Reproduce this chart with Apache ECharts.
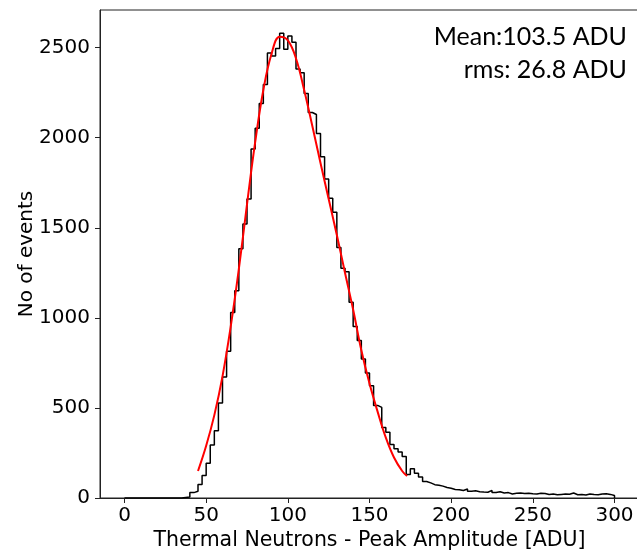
<!DOCTYPE html>
<html>
<head>
<meta charset="utf-8">
<script src="https://cdn.jsdelivr.net/npm/echarts@6/dist/echarts.min.js"></script>
<style>
  html, body { margin: 0; padding: 0; background: #fff; }
  #chart { width: 637px; height: 552px; }
</style>
</head>
<body>
<div id="chart"></div>
<script>
// Histogram: 120 bins of 2.5 ADU from 0 to 300
const binStart = 0;
const binWidth = 2.5;
const counts = [
  0, 0, 0, 0, 0, 0, 0, 0, 0, 0,
  0, 0, 0, 0, 3, 6, 30, 37, 75, 125,
  193, 294, 374, 528, 672, 814, 1030, 1150, 1383, 1521,
  1660, 1937, 2052, 2190, 2296, 2470, 2453, 2495, 2580, 2491,
  2565, 2530, 2382, 2360, 2245, 2140, 2129, 2023, 1894, 1771,
  1664, 1586, 1390, 1276, 1256, 1087, 952, 875, 772, 694,
  623, 514, 503, 392, 365, 297, 273, 256, 230, 130,
  162, 138, 117, 92, 84, 74, 71, 66, 58, 54,
  47, 46, 42, 50, 38, 40, 35, 33, 32, 42,
  30, 35, 28, 30, 22, 26, 28, 25, 27, 24,
  22, 26, 25, 20, 22, 18, 20, 22, 21, 28,
  18, 20, 17, 22, 19, 18, 22, 24, 20, 14
];

// Fitted curve, sampled points [ADU, events]
const fitX = [45, 50, 55, 60, 65, 70, 75, 80, 85, 90, 95, 100, 105, 110, 115, 120, 125, 130, 135, 140, 145, 150, 155, 160, 165, 170, 173];
const fitY = [150, 290, 460, 675, 950, 1270, 1630, 1975, 2265, 2465, 2560, 2540, 2440, 2265, 2065, 1860, 1660, 1460, 1250, 1045, 820, 635, 478, 335, 225, 150, 122];

const xTicks = [0, 50, 100, 150, 200, 250, 300];
const yTicks = [0, 500, 1000, 1500, 2000, 2500];

const statsLines = ['Mean:103.5 ADU', 'rms: 26.8 ADU'];

// step line points: left edge of each bin, closed at the last right edge
const stepData = counts.map((c, i) => [binStart + i * binWidth, c]);
stepData.push([binStart + counts.length * binWidth, 0]);

const fitData = fitX.map((x, i) => [x, fitY[i]]);

const axisFont = 'DejaVu Sans';
const labelSize = 20;
const nameSize = 20.5;
const chart = echarts.init(document.getElementById('chart'), null, { renderer: 'canvas' });

chart.setOption({
  animation: false,
  backgroundColor: '#ffffff',
  grid: {
    left: 100, top: 10, right: -2, bottom: 54,
    outerBoundsMode: 'none',
    containLabel: false,
    show: true, borderColor: '#222', borderWidth: 1
  },
  xAxis: {
    type: 'value',
    min: -15, max: 315,
    name: 'Thermal Neutrons - Peak Amplitude [ADU]',
    nameLocation: 'middle',
    nameGap: 32,
    nameMoveOverlap: false,
    nameTextStyle: { fontFamily: axisFont, fontSize: nameSize, color: '#000' },
    axisLine: { show: true, onZero: false, lineStyle: { color: '#222', width: 1 } },
    axisTick: { show: true, inside: false, length: 5, customValues: xTicks, lineStyle: { color: '#222' } },
    axisLabel: { customValues: xTicks, fontFamily: axisFont, fontSize: labelSize, color: '#000', margin: 8, formatter: v => String(v) },
    splitLine: { show: false }
  },
  yAxis: {
    type: 'value',
    min: 0, max: 2709,
    name: 'No of events',
    nameLocation: 'middle',
    nameGap: 63,
    nameRotate: 90,
    nameMoveOverlap: false,
    nameTextStyle: { fontFamily: axisFont, fontSize: 20, color: '#000' },
    axisLine: { show: true, onZero: false, lineStyle: { color: '#222', width: 1 } },
    axisTick: { show: true, inside: false, length: 5, customValues: yTicks, lineStyle: { color: '#222' } },
    axisLabel: { customValues: yTicks, fontFamily: axisFont, fontSize: labelSize, color: '#000', margin: 10, formatter: v => String(v) },
    splitLine: { show: false }
  },
  graphic: statsLines.map((t, i) => ({
    type: 'text',
    right: 10,
    top: 24 + i * 33,
    style: { text: t, font: '25px Lato', fill: '#000' }
  })),
  series: [
    {
      type: 'line',
      data: stepData,
      step: 'end',
      symbol: 'none',
      lineStyle: { color: '#000', width: 1.5 },
      z: 2
    },
    {
      type: 'line',
      data: fitData,
      smooth: 0.4,
      symbol: 'none',
      lineStyle: { color: '#ff0000', width: 2 },
      z: 3
    }
  ]
});
</script>
</body>
</html>
